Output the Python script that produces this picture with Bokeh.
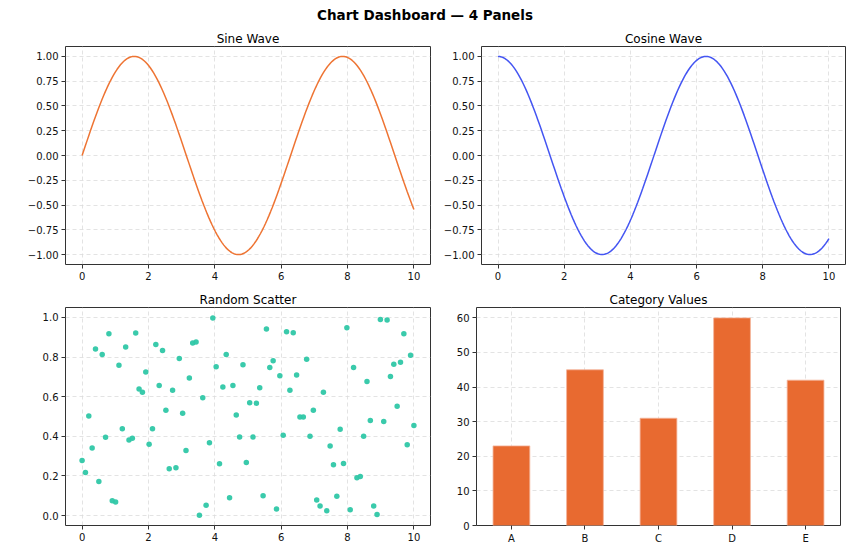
import numpy as np
from bokeh.plotting import figure
from bokeh.layouts import column, row
from bokeh.models import FixedTicker, Range1d
from bokeh.core.properties import value
from bokeh.embed import file_html
from bokeh.resources import INLINE

# ---------------- data ----------------
suptitle = "Chart Dashboard — 4 Panels"
titles = ["Sine Wave", "Cosine Wave", "Random Scatter", "Category Values"]

wave_x = np.linspace(0, 10, 200)
sine_y = np.sin(wave_x)
cosine_y = np.cos(wave_x)

scatter_x = np.linspace(0, 10, 100)
scatter_y = [
    0.278, 0.217, 0.503, 0.341, 0.841, 0.172, 0.813, 0.395, 0.918, 0.075,
    0.069, 0.758, 0.438, 0.851, 0.381, 0.390, 0.921, 0.639, 0.622, 0.724,
    0.360, 0.438, 0.863, 0.657, 0.833, 0.532, 0.236, 0.632, 0.242, 0.793,
    0.517, 0.329, 0.694, 0.871, 0.876, 0.002, 0.594, 0.052, 0.368, 0.997,
    0.751, 0.261, 0.649, 0.813, 0.090, 0.657, 0.507, 0.396, 0.761, 0.268,
    0.570, 0.396, 0.567, 0.645, 0.100, 0.941, 0.747, 0.781, 0.033, 0.706,
    0.406, 0.928, 0.632, 0.923, 0.709, 0.497, 0.497, 0.789, 0.400, 0.532,
    0.079, 0.048, 0.622, 0.025, 0.351, 0.256, 0.097, 0.436, 0.263, 0.948,
    0.030, 0.747, 0.191, 0.197, 0.400, 0.677, 0.480, 0.048, 0.005, 0.990,
    0.475, 0.987, 0.702, 0.764, 0.552, 0.774, 0.918, 0.358, 0.809, 0.455,
]

categories = ["A", "B", "C", "D", "E"]
cat_values = [23, 45, 31, 60, 42]

wave_xticks = [0, 2, 4, 6, 8, 10]
wave_yticks = [-1.0, -0.75, -0.5, -0.25, 0.0, 0.25, 0.5, 0.75, 1.0]
scatter_yticks = [0.0, 0.2, 0.4, 0.6, 0.8, 1.0]
bar_yticks = [0, 10, 20, 30, 40, 50, 60]

# ---------------- styling helpers ----------------
FONT = "DejaVu Sans"


def fmt(v, nd):
    s = f"{abs(v):.{nd}f}"
    return ("\u2212" + s) if v < 0 else s


def make_fig(title, x_range, y_range, ml, mr, mt, mb, fw, fh):
    p = figure(
        frame_width=fw, frame_height=fh,
        x_range=x_range, y_range=y_range,
        output_backend="svg", toolbar_location=None,
        min_border_left=ml, min_border_right=mr,
        min_border_top=mt, min_border_bottom=mb,
        title=title,
    )
    p.title.align = "center"
    p.title.text_font = FONT
    p.title.text_font_size = "12px"
    p.title.text_font_style = "normal"
    p.title.text_color = "#000000"
    p.title.offset = 0
    p.title.standoff = 2
    p.outline_line_color = "#333333"
    p.outline_line_width = 1
    p.background_fill_color = "white"
    p.border_fill_color = "white"
    for ax in (p.xaxis, p.yaxis):
        ax.axis_line_color = None
        ax.major_tick_line_color = "#333333"
        ax.major_tick_out = 4
        ax.major_tick_in = 0
        ax.minor_tick_line_color = None
        ax.major_label_text_font = FONT
        ax.major_label_text_font_size = "10px"
        ax.major_label_text_color = "#111111"
        ax.major_label_standoff = 3
    p.grid.grid_line_color = "#dcdcdc"
    p.grid.grid_line_dash = "4 3"
    p.grid.grid_line_width = 0.8
    return p


# ---------------- header ----------------
HEADER_H = 24
header = figure(width=849, height=HEADER_H, output_backend="svg", toolbar_location=None,
                x_range=Range1d(0, 849), y_range=Range1d(0, HEADER_H), min_border=0)
header.axis.visible = False
header.grid.visible = False
header.outline_line_color = None
header.text(x=[424.5], y=[HEADER_H - 14], text=[suptitle],
            text_font=value(FONT), text_font_size="13.5px", text_font_style="bold",
            text_color="black", text_align="center", text_baseline="middle")

# ---------------- sine ----------------
p1 = make_fig(titles[0], Range1d(-0.5, 10.5), Range1d(-1.1, 1.1), 65, 10, 22, 21, 365, 218)
p1.line(wave_x, sine_y, line_color="#ee7433", line_width=1.5)

# ---------------- cosine ----------------
p2 = make_fig(titles[1], Range1d(-0.5, 10.5), Range1d(-1.1, 1.1), 36, 9, 22, 21, 364, 218)
p2.line(wave_x, cosine_y, line_color="#4455f2", line_width=1.5)

for p in (p1, p2):
    p.xaxis.ticker = FixedTicker(ticks=wave_xticks)
    p.xgrid.ticker = FixedTicker(ticks=wave_xticks)
    p.yaxis.ticker = FixedTicker(ticks=wave_yticks)
    p.ygrid.ticker = FixedTicker(ticks=wave_yticks)
    p.yaxis.major_label_overrides = {t: fmt(t, 2) for t in wave_yticks}
    p.xaxis.major_label_overrides = {t: str(t) for t in wave_xticks}

# ---------------- scatter ----------------
p3 = make_fig(titles[2], Range1d(-0.5, 10.5), Range1d(-0.05, 1.05), 65, 10, 22, 26, 365, 218)
p3.scatter(scatter_x, scatter_y, size=5.5, fill_color="#2fc7a6", line_color=None,
           fill_alpha=0.95)
p3.xaxis.ticker = FixedTicker(ticks=wave_xticks)
p3.xgrid.ticker = FixedTicker(ticks=wave_xticks)
p3.xaxis.major_label_overrides = {t: str(t) for t in wave_xticks}
p3.yaxis.ticker = FixedTicker(ticks=scatter_yticks)
p3.ygrid.ticker = FixedTicker(ticks=scatter_yticks)
p3.yaxis.major_label_overrides = {t: fmt(t, 1) for t in scatter_yticks}

# ---------------- bars ----------------
cat_pos = list(range(len(categories)))
p4 = make_fig(titles[3], Range1d(-0.475, 4.475), Range1d(0, 63), 36, 9, 22, 26, 364, 218)
p4.vbar(x=cat_pos, top=cat_values, width=0.5, fill_color="#e86a30",
        line_color="#f4b49a", line_width=0.8)
p4.xaxis.ticker = FixedTicker(ticks=cat_pos)
p4.xgrid.ticker = FixedTicker(ticks=cat_pos)
p4.xaxis.major_label_overrides = {i: c for i, c in zip(cat_pos, categories)}
p4.yaxis.ticker = FixedTicker(ticks=bar_yticks)
p4.ygrid.ticker = FixedTicker(ticks=bar_yticks)
p4.yaxis.major_label_overrides = {t: str(t) for t in bar_yticks}
p4.grid.level = "underlay"

layout = column(header, row(p1, p2), row(p3, p4))

open("out.html", "w").write(file_html(layout, INLINE))
